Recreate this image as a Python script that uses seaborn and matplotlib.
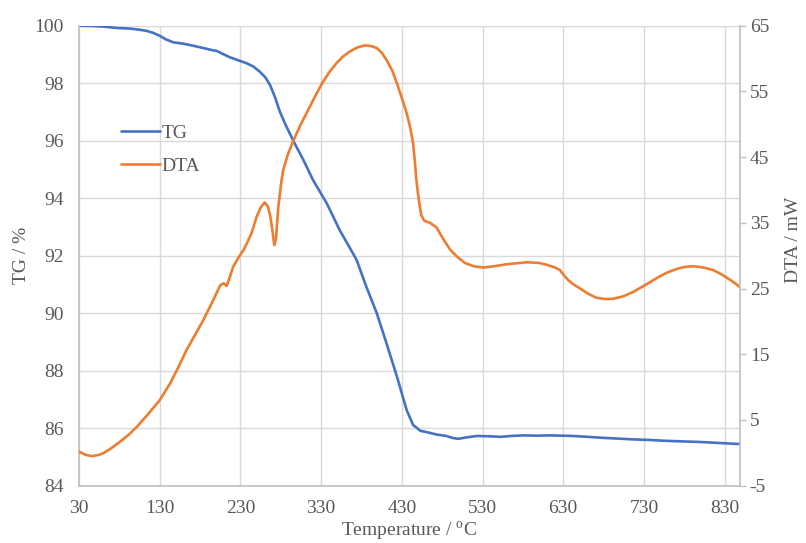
import numpy as np
import matplotlib
matplotlib.use('Agg')
import matplotlib.pyplot as plt
import seaborn as sns

sns.set_style("white")
plt.rcParams['font.family'] = ['Liberation Serif', 'DejaVu Serif']
plt.rcParams['mathtext.fontset'] = 'custom'
plt.rcParams['mathtext.rm'] = 'Liberation Serif'
plt.rcParams['axes.unicode_minus'] = False

# TG curve (temperature in C, mass %)
tg_temp = [30, 45, 60, 77, 93, 105, 114, 122, 130, 138, 147, 158, 172, 186, 195, 201,
           208, 217, 228, 238, 246, 254, 261, 267, 273, 279, 286, 296, 308, 320, 337,
           353, 365, 374, 386, 399, 411, 424, 436, 444, 453, 463, 473, 485, 493, 500,
           510, 523, 537, 552, 566, 581, 597, 614, 628, 642, 660, 676, 697, 717, 737,
           758, 779, 800, 820, 841, 849]
tg_vals = [100.0, 99.99, 99.97, 99.92, 99.9, 99.86, 99.82, 99.75, 99.65, 99.52, 99.42,
           99.38, 99.30, 99.21, 99.15, 99.12, 99.02, 98.90, 98.79, 98.69, 98.58, 98.40,
           98.2, 97.92, 97.5, 97.0, 96.55, 95.97, 95.33, 94.63, 93.82, 92.89, 92.3,
           91.85, 90.92, 90.0, 88.95, 87.79, 86.63, 86.11, 85.91, 85.85, 85.78, 85.73,
           85.66, 85.63, 85.68, 85.73, 85.72, 85.70, 85.73, 85.75, 85.74, 85.75, 85.74,
           85.73, 85.70, 85.67, 85.64, 85.61, 85.59, 85.56, 85.54, 85.52, 85.49, 85.46,
           85.45]

# DTA curve (temperature in C, mW)
dta_temp = [30, 38, 46, 55, 60, 70, 81, 92, 102, 115, 130, 143, 153, 163, 174, 184, 195,
            205, 209, 213, 217, 221, 227, 234, 238, 244, 250, 255, 260, 264, 267, 270,
            272, 274, 277, 281, 283, 289, 296, 304, 312, 321, 331, 340, 349, 357, 366,
            375, 384, 392, 399, 405, 411, 418, 424, 430, 436, 440, 444, 446, 448, 451,
            454, 458, 465, 473, 481, 490, 498, 508, 519, 531, 545, 560, 585, 600, 610,
            620, 626, 631, 636, 643, 651, 661, 671, 682, 692, 704, 717, 731, 746, 758,
            771, 781, 791, 804, 816, 827, 837, 843, 849]
dta_vals = [0.2, -0.3, -0.5, -0.3, -0.07, 0.7, 1.7, 2.8, 4.0, 5.8, 8.0, 10.6, 13.0, 15.6,
            18.0, 20.2, 22.9, 25.5, 25.8, 25.4, 26.8, 28.3, 29.6, 30.9, 31.9, 33.5, 35.9,
            37.3, 38.1, 37.5, 36.0, 33.5, 31.6, 32.5, 37.5, 41.5, 43.0, 45.5, 47.6, 49.8,
            51.7, 53.9, 56.2, 57.9, 59.3, 60.3, 61.1, 61.7, 62.0, 61.9, 61.6, 60.9, 59.8,
            58.2, 56.2, 54.0, 51.7, 49.7, 47.1, 44.5, 41.5, 38.5, 36.2, 35.3, 35.0, 34.3,
            32.6, 30.9, 29.9, 28.9, 28.4, 28.2, 28.4, 28.7, 29.0, 28.9, 28.6, 28.2, 27.8,
            27.0, 26.3, 25.6, 25.0, 24.2, 23.6, 23.4, 23.45, 23.8, 24.5, 25.5, 26.6, 27.4,
            28.0, 28.3, 28.4, 28.2, 27.8, 27.1, 26.3, 25.8, 25.2]

x_ticks = [30, 130, 230, 330, 430, 530, 630, 730, 830]
tg_ticks = [84, 86, 88, 90, 92, 94, 96, 98, 100]
dta_ticks = [-5, 5, 15, 25, 35, 45, 55, 65]

blue = '#4472C4'
orange = '#ED7D31'
txt = '#595959'
grid = '#D9D9D9'
spine = '#BFBFBF'

fig = plt.figure(figsize=(8.06, 5.43), dpi=100)
ax = fig.add_axes([79/806, 1-485.7/543, 661/806, 460/543])
ax2 = ax.twinx()

sns.lineplot(x=tg_temp, y=tg_vals, ax=ax, color=blue, linewidth=1.9, legend=False)
sns.lineplot(x=dta_temp, y=dta_vals, ax=ax2, color=orange, linewidth=1.9, legend=False)

ax.set_xlim(30, 849)
ax.set_ylim(84, 100)
ax2.set_ylim(-5, 65)
ax.set_xticks(x_ticks)
ax.set_yticks(tg_ticks)
ax2.set_yticks(dta_ticks)

ax.grid(True, color=grid, linewidth=1.0)
ax2.grid(False)
ax.set_axisbelow(True)

for a in (ax, ax2):
    for s in a.spines.values():
        s.set_visible(False)
ax.spines['left'].set_visible(True)
ax.spines['bottom'].set_visible(True)
ax2.spines['right'].set_visible(True)
for s in (ax.spines['left'], ax.spines['bottom'], ax2.spines['right']):
    s.set_color(spine)
    s.set_linewidth(1.2)

ax.tick_params(axis='y', length=0, pad=11, labelsize=14, labelcolor=txt)
ax.tick_params(axis='x', length=0, pad=10, labelsize=14, labelcolor=txt)
ax2.tick_params(axis='y', length=4, width=1.0, color=spine, pad=3, labelsize=14, labelcolor=txt)

ax.set_xlabel(r'Temperature / $^{\mathrm{o}}$C', fontsize=14, color=txt)
ax.set_ylabel('TG / %', fontsize=14, color=txt)
ax2.set_ylabel('DTA / mW', fontsize=14, color=txt)
ax.xaxis.set_label_coords(0.5, -0.073)
ax.yaxis.set_label_coords(-0.074, 0.5)
ax2.yaxis.set_label_coords(1.068, 0.535)

handles = [ax.lines[0], ax2.lines[0]]
fig.legend(handles, ['TG', 'DTA'], loc='upper left',
           bbox_to_anchor=(121/806, 1-124/543), bbox_transform=fig.transFigure,
           frameon=False, fontsize=14, labelcolor=txt, borderpad=0, borderaxespad=0,
           handlelength=2.0, handletextpad=0.1, labelspacing=0.8)

fig.savefig('out.png', dpi=100)
